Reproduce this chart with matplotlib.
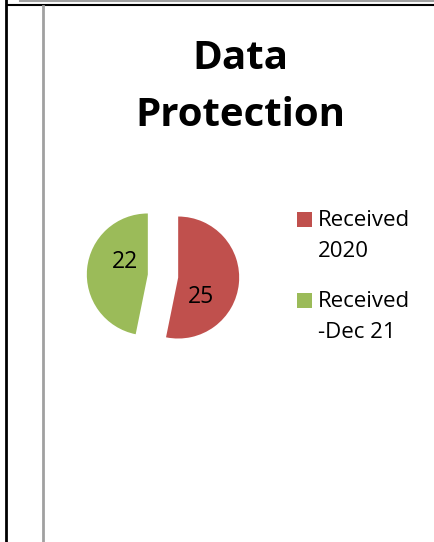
import numpy as np
import matplotlib
matplotlib.use('Agg')
import matplotlib.pyplot as plt
from matplotlib.lines import Line2D
from matplotlib.patches import Rectangle

# Dados
categorias = ['Received\n2020', 'Received\n-Dec 21']
valores = [25, 22]
cores = ['#C0504D', '#9BBB59']
titulo = 'Data\nProtection'

plt.rcParams['font.family'] = ['Open Sans', 'DejaVu Sans']

W, H = 435, 542
fig = plt.figure(figsize=(W / 100, H / 100), dpi=100)
fig.patch.set_facecolor('white')


def px(x, y):
    # pixel da imagem (origem no topo) -> fração da figura
    return x / W, 1 - y / H


# Moldura
fig.add_artist(Line2D([20 / W, 1], [1 - 1 / H, 1 - 1 / H], color='#a0a0a0', lw=1.5))
fig.add_artist(Line2D([7 / W, 1], [1 - 5 / H, 1 - 5 / H], color='black', lw=1.5))
fig.add_artist(Line2D([6.5 / W, 6.5 / W], [0, 1], color='black', lw=2))
fig.add_artist(Line2D([42.5 / W, 42.5 / W], [0, 1 - 6 / H], color='#a0a0a0', lw=2))

# Título
x0, y0 = px(240, 87)
fig.text(x0, y0, titulo, ha='center', va='center', fontsize=29, fontweight='bold',
         linespacing=1.58)

# Pizza
cx, cy, r = 163, 276, 61
meia = 100
ax = fig.add_axes([(cx - meia) / W, 1 - (cy + meia) / H, 2 * meia / W, 2 * meia / H])

wedges, _ = ax.pie(valores, colors=cores, startangle=90, counterclock=False,
                   explode=[0.25, 0.25], radius=1, frame=True)
ax.set_xlim(-meia / r, meia / r)
ax.set_ylim(-meia / r, meia / r)
ax.set_aspect('equal')
ax.axis('off')

# posição dos rótulos (giro em graus e distância relativa ao raio)
desvio = [-35, -23]
dist = [0.5, 0.43]
for w, v, d, k in zip(wedges, valores, desvio, dist):
    meio = np.deg2rad((w.theta1 + w.theta2) / 2 + d)
    x = w.center[0] + k * np.cos(meio)
    y = w.center[1] + k * np.sin(meio)
    ax.text(x, y, str(v), ha='center', va='center', fontsize=16.5, color='black')

# Legenda
lx, ly = 297, 212
for i, (cat, cor) in enumerate(zip(categorias, cores)):
    topo = ly + i * 81
    bx, by = px(lx, topo + 15)
    fig.add_artist(Rectangle((bx, by), 15 / W, 15 / H, facecolor=cor, edgecolor='none',
                             transform=fig.transFigure))
    tx, ty = px(lx + 21, topo - 2)
    fig.text(tx, ty, cat, ha='left', va='top', fontsize=16, linespacing=1.62)

plt.savefig('out.png', dpi=100)
